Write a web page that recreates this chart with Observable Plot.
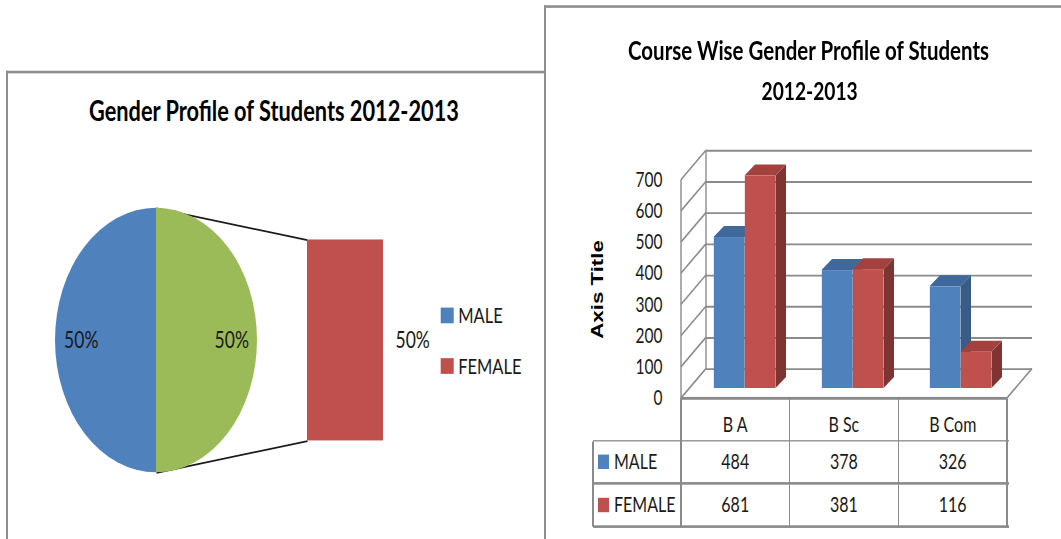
<!DOCTYPE html>
<html><head><meta charset="utf-8">
<script src="https://cdn.jsdelivr.net/npm/d3@7"></script>
<script src="https://cdn.jsdelivr.net/npm/@observablehq/plot@0.6"></script>
<style>
html,body{margin:0;padding:0;background:#fff;width:1061px;height:539px;overflow:hidden;}
#stage{position:absolute;left:0;top:0;width:1061px;height:412px;transform:scaleY(1.31);transform-origin:0 0;font-family:Lato,"Open Sans",sans-serif;}
.abs{position:absolute;}
.panel{position:absolute;background:#fff;border-style:solid;border-color:#8e8e8e;border-width:2px 0 0 2px;box-sizing:border-box;}
.title{position:absolute;white-space:nowrap;font-weight:700;color:#000;line-height:1;font-family:Lato,sans-serif;}
.cell{position:absolute;white-space:nowrap;line-height:1;font-size:16px;color:#1a1a1a;font-family:Lato,sans-serif;}
.hl{position:absolute;background:#8a8a8a;height:1.5px;}
.vl{position:absolute;background:#8a8a8a;width:1.5px;}
.sw{position:absolute;}
</style></head><body>
<div id="stage">
  <div class="panel" style="left:6px;top:53.5px;width:560px;height:400px"></div>
  <div id="leftChart" class="abs" style="left:0;top:0"></div>
  <div class="panel" style="left:544px;top:4.2px;width:540px;height:420px"></div>
  <div id="rightChart" class="abs" style="left:545px;top:100px"></div>
  <div id="table" class="abs" style="left:0;top:0"></div>
</div>
<script>
// ---------------- data ----------------
const pieNames = ["MALE", "FEMALE"];
const pieShares = [50, 50];              // percent of students
const secondaryNames = ["FEMALE"];       // slices split out into the bar
const courses = ["B A", "B Sc", "B Com"];
const seriesNames = ["MALE", "FEMALE"];
const maleCounts = [484, 378, 326];
const femaleCounts = [681, 381, 116];
const yTicks = [0, 100, 200, 300, 400, 500, 600, 700];
const leftTitle = "Gender Profile of Students 2012-2013";
const rightTitle = ["Course Wise Gender Profile of Students", "2012-2013"];
const yAxisTitle = "Axis Title";

// ---------------- styles ----------------
const fillOf = {MALE: "#4f81bd", FEMALE: "#c0504d", OTHER: "#9bbb59"};
const topOf = {MALE: "#41689c", FEMALE: "#a3413e"};
const sideOf = {MALE: "#385b88", FEMALE: "#7e3432"};
const GRID = "#8b8b8b";
const stage = document.getElementById("stage");

// ---------------- left: bar of pie ----------------
const PIE_CX = 156, PIE_CY = 259.5, PIE_R = 101;
const BAR_X0 = 307, BAR_X1 = 383, BAR_H = 153.4;
const LABEL_R = 0.745 * PIE_R;
const total = d3.sum(pieShares);
const shareOf = Object.fromEntries(pieNames.map((n, i) => [n, pieShares[i]]));
const otherTotal = d3.sum(secondaryNames, n => shareOf[n]);
const primary = pieNames.filter(n => !secondaryNames.includes(n)).map(n => ({name: n, value: shareOf[n]}))
  .concat([{name: "OTHER", value: otherTotal}]);
const otherAngle = 2 * Math.PI * otherTotal / total;
const start = Math.PI / 2 + otherAngle / 2;
const arcs = d3.pie().sort(null).value(d => d.value).startAngle(start).endAngle(start + 2 * Math.PI)(primary);
const otherArc = arcs.find(a => a.data.name === "OTHER");
const pt = (a, r) => [PIE_CX + r * Math.sin(a), PIE_CY - r * Math.cos(a)];
const pct = d3.format(".0%");

let acc = PIE_CY - BAR_H / 2;
const barSegs = secondaryNames.map(n => {
  const h = BAR_H * shareOf[n] / otherTotal;
  const s = {name: n, y1: acc, y2: acc + h, label: pct(shareOf[n] / total)};
  acc += h; return s;
});
const barTop = PIE_CY - BAR_H / 2, barBot = PIE_CY + BAR_H / 2;
const [topPt, botPt] = [pt(otherArc.startAngle, PIE_R), pt(otherArc.endAngle, PIE_R)];
const connectors = [
  {x1: topPt[0], y1: topPt[1], x2: BAR_X0, y2: barTop},
  {x1: botPt[0], y1: botPt[1], x2: BAR_X0, y2: barBot}
];
const pieLabels = arcs.map(a => {
  const m = (a.startAngle + a.endAngle) / 2, p = pt(m, LABEL_R);
  return {x: p[0], y: p[1], text: pct(a.data.value / total)};
});
const LEG_X = 440.7, LEG_Y0 = 240.8, LEG_DY = 38.6;
const legend = pieNames.map((n, i) => ({name: n, y: LEG_Y0 + i * LEG_DY}));

function pieMark() {
  const g = d3.create("svg:g").attr("transform", `translate(${PIE_CX},${PIE_CY})`);
  const arc = d3.arc().innerRadius(0).outerRadius(PIE_R);
  g.selectAll("path").data(arcs).join("path").attr("d", arc).attr("fill", d => fillOf[d.data.name]);
  return g.node();
}

const left = Plot.plot({
  width: 540, height: 411, margin: 0,
  x: {domain: [0, 540], range: [0, 540], axis: null},
  y: {domain: [0, 411], range: [0, 411], axis: null},
  style: {background: "transparent", overflow: "visible"},
  marks: [
    Plot.link(connectors, {x1: "x1", y1: "y1", x2: "x2", y2: "y2", stroke: "#1a1a1a", strokeWidth: 1.3}),
    pieMark,
    Plot.rect(barSegs, {x1: BAR_X0, x2: BAR_X1, y1: "y1", y2: "y2", fill: d => fillOf[d.name]}),
    Plot.text(pieLabels, {x: "x", y: "y", text: "text", fontSize: 17.5, fontFamily: "Lato", fill: "#1a1a1a"}),
    Plot.text(barSegs, {x: BAR_X1 + 12, y: d => (d.y1 + d.y2) / 2, text: "label", textAnchor: "start", fontSize: 17.5, fontFamily: "Lato", fill: "#1a1a1a"}),
    Plot.rect(legend, {x1: LEG_X, x2: LEG_X + 13, y1: d => d.y - 6, y2: d => d.y + 6, fill: d => fillOf[d.name]}),
    Plot.text(legend, {x: LEG_X + 17, y: "y", text: "name", textAnchor: "start", fontSize: 16.5, fontFamily: "Lato", fill: "#1a1a1a"})
  ]
});
document.getElementById("leftChart").appendChild(left);

// ---------------- right: 3D clustered columns ----------------
const W = 516, H = 210, ML = 136, MR = 54, MT = 37.1, MB = 6.2;
const WALL_DX = 25, WALL_DY = -22.5;
const BAR_DX = 8.5, BAR_DY = -7.6;
const D_DX = 10.5, D_DY = -8.4;
const BAR_W = 31;
const rows = [];
courses.forEach((c, i) => {
  rows.push({course: c, series: "MALE", slot: 0, value: maleCounts[i]});
  rows.push({course: c, series: "FEMALE", slot: 1, value: femaleCounts[i]});
});
const bwFixed = (W - ML - MR) / courses.length;
const groupInset = (bwFixed - 2 * BAR_W) / 2;

function wallsMark(index, scales, values, dims) {
  const y = scales.y;
  const xl = dims.marginLeft, xr = dims.width - dims.marginRight;
  const g = d3.create("svg:g").attr("stroke", GRID).attr("stroke-width", 1.4).attr("fill", "none");
  const line = (a, b, c, d) => g.append("line").attr("x1", a).attr("y1", b).attr("x2", c).attr("y2", d);
  const top = yTicks[yTicks.length - 1];
  line(xl, y(0), xl, y(top));
  line(xl + WALL_DX, y(0) + WALL_DY, xl + WALL_DX, y(top) + WALL_DY);
  for (const t of yTicks) line(xl, y(t), xl + WALL_DX, y(t) + WALL_DY);
  line(xr, y(0), xr + WALL_DX, y(0) + WALL_DY);
  return g.node();
}
function depthMark(index, scales) {
  const x = scales.x, y = scales.y;
  const bw = x.bandwidth ? x.bandwidth() : bwFixed;
  const g = d3.create("svg:g");
  const poly = (pts, fill) => g.append("polygon").attr("points", pts.map(p => p.join(",")).join(" ")).attr("fill", fill);
  for (const r of rows) {
    const l = x(r.course) + BAR_DX + (bw - 2 * BAR_W) / 2 + r.slot * BAR_W;
    const rt = l + BAR_W;
    const tp = y(r.value) + BAR_DY, base = y(0) + BAR_DY;
    poly([[rt, base], [rt, tp], [rt + D_DX, tp + D_DY], [rt + D_DX, base + D_DY]], sideOf[r.series]);
    poly([[l, tp], [rt, tp], [rt + D_DX, tp + D_DY], [l + D_DX, tp + D_DY]], topOf[r.series]);
  }
  return g.node();
}

const right = Plot.plot({
  width: W, height: H, marginLeft: ML, marginRight: MR, marginTop: MT, marginBottom: MB,
  x: {type: "band", domain: courses, padding: 0, axis: null},
  y: {domain: [0, yTicks[yTicks.length - 1]], axis: null},
  style: {background: "transparent", overflow: "visible"},
  marks: [
    Plot.ruleY(yTicks, {dx: WALL_DX, dy: WALL_DY, stroke: GRID, strokeWidth: 1.4, strokeOpacity: 1}),
    wallsMark,
    Plot.ruleY([0], {stroke: GRID, strokeWidth: 1.4, strokeOpacity: 1}),
    depthMark,
    Plot.barY(rows.filter(r => r.slot === 0), {x: "course", y: "value", fill: fillOf.MALE, dx: BAR_DX, dy: BAR_DY,
      insetLeft: groupInset, insetRight: bwFixed - groupInset - BAR_W}),
    Plot.barY(rows.filter(r => r.slot === 1), {x: "course", y: "value", fill: fillOf.FEMALE, dx: BAR_DX, dy: BAR_DY,
      insetLeft: groupInset + BAR_W, insetRight: groupInset}),
    Plot.axisY(yTicks, {tickSize: 0, tickPadding: 19, fontSize: 15.5, fontFamily: "Lato", fill: "#1a1a1a", label: null}),
    Plot.text([yAxisTitle], {text: d => d, frameAnchor: "left", textAnchor: "middle", lineAnchor: "middle", dx: -84.3, rotate: -90, fontSize: 17, fontWeight: "bold",
      fontFamily: "Liberation Sans, Arial, sans-serif", fill: "#000"})
  ]
});
document.getElementById("rightChart").appendChild(right);

// ---------------- data table ----------------
const tbl = document.getElementById("table");
const X0 = 545 + ML, X1 = 545 + W - MR, LABX = 593;
const colW = (X1 - X0) / courses.length;
const rowEdges = [303.8, 336.6, 368.9, 402];
const add = (cls, css, txt) => { const e = document.createElement("div"); e.className = cls; Object.assign(e.style, css); if (txt != null) e.textContent = txt; tbl.appendChild(e); return e; };
add("hl", {left: X0 + "px", top: rowEdges[0] - 0.75 + "px", width: (X1 - X0) + "px"});
for (let i = 1; i < rowEdges.length; i++) add("hl", {left: LABX + "px", top: rowEdges[i] - 0.75 + "px", width: (X1 - LABX + 1.5) + "px"});
for (let j = 0; j <= courses.length; j++) add("vl", {left: X0 + j * colW - 0.75 + "px", top: rowEdges[0] + "px", height: (rowEdges[3] - rowEdges[0]) + "px"});
add("vl", {left: LABX - 0.75 + "px", top: rowEdges[1] + "px", height: (rowEdges[3] - rowEdges[1]) + "px"});
const FS = 16;
function centered(txt, cx, cy) {
  const e = add("cell", {top: (cy - 0.529 * FS) + "px"}, txt);
  e.style.left = (cx - e.offsetWidth / 2) + "px";
}
const headerCY = 324.4, rowCY = [352.4, 385.5];
courses.forEach((c, j) => centered(c, X0 + (j + 0.5) * colW, headerCY));
const tableVals = [maleCounts, femaleCounts];
seriesNames.forEach((s, i) => {
  tableVals[i].forEach((v, j) => centered(String(v), X0 + (j + 0.5) * colW, rowCY[i]));
  add("sw", {left: "598px", top: (rowCY[i] - 5.7) + "px", width: "11px", height: "11.4px", background: fillOf[s]});
  add("cell", {left: "614px", top: (rowCY[i] - 0.529 * FS) + "px"}, s);
});

// ---------------- titles ----------------
function placeTitle(text, cx, baseline, targetW) {
  const el = document.createElement("div");
  el.className = "title"; el.textContent = text; el.style.fontSize = "24px";
  stage.appendChild(el);
  const fs = 24 * targetW / el.offsetWidth;
  el.style.fontSize = fs + "px";
  el.style.left = (cx - el.offsetWidth / 2) + "px";
  el.style.top = (baseline - 0.887 * fs) + "px";
}
placeTitle(leftTitle, 274, 92.9, 370);
placeTitle(rightTitle[0], 808.5, 45.8, 361);
placeTitle(rightTitle[1], 809.5, 76.4, 96);
</script>
</body></html>
